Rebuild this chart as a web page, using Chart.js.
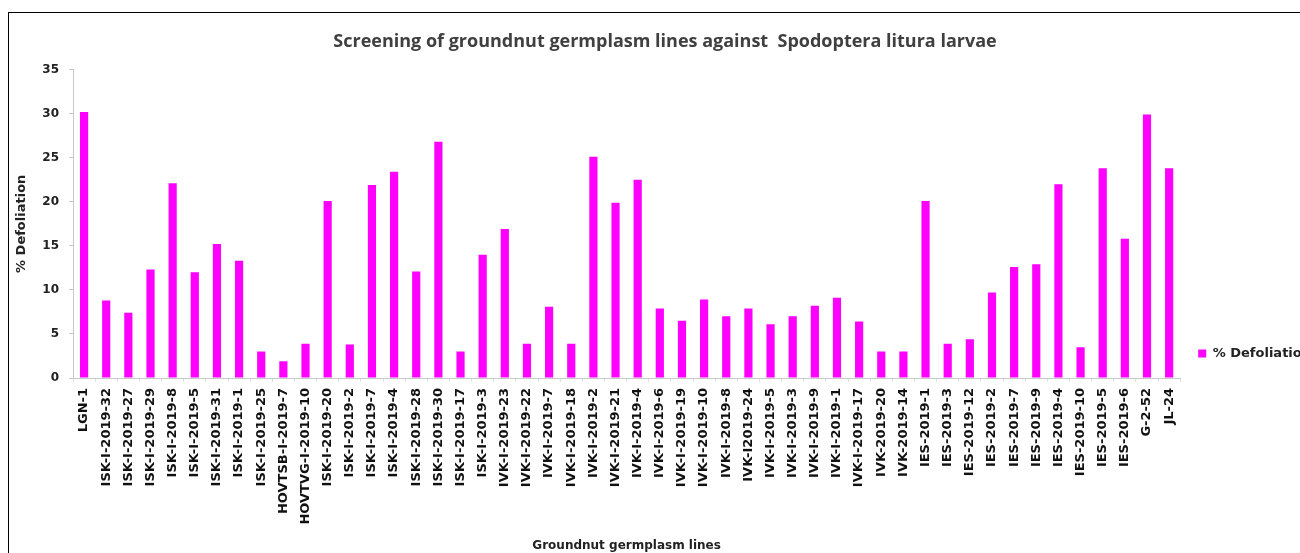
<!DOCTYPE html>
<html>
<head>
<meta charset="utf-8">
<script src="https://cdn.jsdelivr.net/npm/chart.js@4.4.1/dist/chart.umd.min.js"></script>
<style>
  body { margin: 0; overflow: hidden; background: #fff; }
  #wrap { position: absolute; left: 8px; top: 12px; width: 1312px; height: 545px; border: 1px solid #000; }
</style>
</head>
<body>
<div id="wrap"><canvas id="myChart" width="1312" height="540"></canvas></div>
<script>
var labels = ["LGN-1", "ISK-I-2019-32", "ISK-I-2019-27", "ISK-I-2019-29", "ISK-I-2019-8", "ISK-I-2019-5",
  "ISK-I-2019-31", "ISK-I-2019-1", "ISK-I-2019-25", "HOVTSB-I-2019-7", "HOVTVG-I-2019-10", "ISK-I-2019-20",
  "ISK-I-2019-2", "ISK-I-2019-7", "ISK-I-2019-4", "ISK-I-2019-28", "ISK-I-2019-30", "ISK-I-2019-17",
  "ISK-I-2019-3", "IVK-I-2019-23", "IVK-I-2019-22", "IVK-I-2019-7", "IVK-I-2019-18", "IVK-I-2019-2",
  "IVK-I-2019-21", "IVK-I-2019-4", "IVK-I-2019-6", "IVK-I-2019-19", "IVK-I-2019-10", "IVK-I-2019-8",
  "IVK-I2019-24", "IVK-I-2019-5", "IVK-I-2019-3", "IVK-I-2019-9", "IVK-I-2019-1", "IVK-I-2019-17",
  "IVK-2019-20", "IVK-2019-14", "IES-2019-1", "IES-2019-3", "IES-2019-12", "IES-2019-2", "IES-2019-7",
  "IES-2019-9", "IES-2019-4", "IES-2019-10", "IES-2019-5", "IES-2019-6", "G-2-52", "JL-24"];

var defoliation = [30.2, 8.8, 7.4, 12.3, 22.1, 12.0, 15.2, 13.3, 3.0, 1.9, 3.9, 20.1,
  3.8, 21.9, 23.4, 12.1, 26.8, 3.0, 14.0, 16.9, 3.9, 8.1, 3.9, 25.1,
  19.9, 22.5, 7.9, 6.5, 8.9, 7.0, 7.9, 6.1, 7.0, 8.2, 9.1, 6.4,
  3.0, 3.0, 20.1, 3.9, 4.4, 9.7, 12.6, 12.9, 22.0, 3.5, 23.8, 15.8, 29.9, 23.8];

var yMin = 0, yMax = 35, yStep = 5;

var titleText = "Screening of groundnut germplasm lines against  Spodoptera litura larvae";

function renderChart(data, labels) {
    var ctx = document.getElementById("myChart").getContext('2d');
    var myChart = new Chart(ctx, {
        type: 'bar',
        data: {
            labels: labels,
            datasets: [{
                label: '% Defoliation',
                data: data,
                backgroundColor: '#FF00FF',
                barPercentage: 0.37,
                categoryPercentage: 1.0
            }]
        },
        options: {
            responsive: false,
            animation: false,
            layout: { padding: { left: 0, right: 0, top: 0, bottom: 0 } },
            scales: {
                x: {
                    grid: { display: true, drawOnChartArea: false, drawTicks: true, tickLength: 4, color: '#d8e8d8' },
                    border: { color: '#c8c8c8' },
                    ticks: {
                        autoSkip: false, minRotation: 90, maxRotation: 90, padding: 6,
                        color: '#111', font: { family: 'DejaVu Sans', weight: 'bold', size: 13 }
                    },
                    title: {
                        display: true, text: 'Groundnut germplasm lines', color: '#222',
                        font: { family: 'DejaVu Sans', weight: 'bold', size: 12 }, padding: { top: 0, bottom: 0 }
                    },
                    afterFit: function (s) { s.height = 175; }
                },
                y: {
                    min: yMin, max: yMax,
                    grid: { display: true, drawOnChartArea: false, drawTicks: true, tickLength: 4, color: '#c8c8c8' },
                    border: { color: '#c8c8c8' },
                    ticks: {
                        stepSize: yStep, padding: 10, color: '#222',
                        font: { family: 'DejaVu Sans', weight: 'bold', size: 12 }
                    },
                    title: {
                        display: true, text: '% Defoliation', color: '#222',
                        font: { family: 'DejaVu Sans', weight: 'bold', size: 13 }, padding: { top: 5, bottom: 0 }
                    },
                    afterFit: function (s) { s.width = 64; }
                }
            },
            plugins: {
                title: {
                    display: true, text: titleText, color: '#404040',
                    font: { family: 'Open Sans', weight: 'bold', size: 18 },
                    padding: { top: 18, bottom: 17 }
                },
                legend: {
                    position: 'right', align: 'end', fullSize: false,
                    labels: {
                        boxWidth: 8, boxHeight: 8, padding: 18, color: '#222',
                        font: { family: 'DejaVu Sans', weight: 'bold', size: 13 }
                    }
                },
                tooltip: { enabled: false }
            }
        }
    });
}

renderChart(defoliation, labels);
</script>
</body>
</html>
